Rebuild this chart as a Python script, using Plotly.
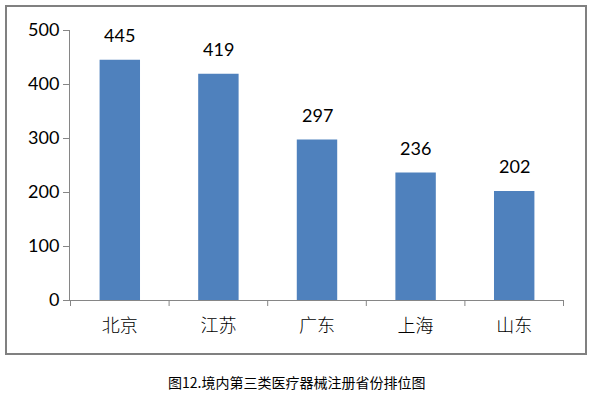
import plotly.graph_objects as go

categories = ["北京", "江苏", "广东", "上海", "山东"]
values = [445, 419, 297, 236, 202]
y_ticks = [0, 100, 200, 300, 400, 500]
caption = "图12.境内第三类医疗器械注册省份排位图"

W, H = 599, 395
L, R, T, B = 70, 35, 30, 95
pw, ph = W - L - R, H - T - B

def px_x(px):
    return (px - L) / pw

def px_y(py):
    return (H - B - py) / ph

fig = go.Figure()
fig.add_trace(go.Bar(
    x=categories, y=values,
    marker=dict(color="#4F81BD", line=dict(width=0)),
    width=0.41,
    hoverinfo="skip",
))

for c, v in zip(categories, values):
    fig.add_annotation(x=c, y=v, text=str(v), showarrow=False,
                       yanchor="bottom", yshift=12,
                       font=dict(family="Lato, Open Sans, sans-serif", size=18, color="#000"))

fig.add_annotation(xref="paper", yref="paper", x=px_x(296), y=px_y(382),
                   text=caption, showarrow=False, xanchor="center", yanchor="middle",
                   font=dict(family="Noto Sans CJK SC", size=14, color="#000", weight=400))

fig.add_shape(type="rect", xref="paper", yref="paper",
              x0=px_x(6), x1=px_x(586), y0=px_y(6), y1=px_y(354),
              line=dict(color="#808080", width=2), fillcolor="rgba(0,0,0,0)", layer="below")

fig.update_layout(
    width=W, height=H,
    margin=dict(l=L, r=R, t=T, b=B),
    paper_bgcolor="white", plot_bgcolor="white",
    showlegend=False,
    bargap=0.59,
    xaxis=dict(
        showline=True, linecolor="#868686", linewidth=1,
        ticks="", showgrid=False,
        tickfont=dict(family="Noto Sans CJK SC", size=18, color="#000", weight=300),
        ticklabelstandoff=9,
    ),
    yaxis=dict(
        range=[0, 500], tickvals=y_ticks,
        showline=True, linecolor="#868686", linewidth=1,
        ticks="outside", ticklen=6, tickcolor="#868686",
        showgrid=False, zeroline=False,
        tickfont=dict(family="Lato, Open Sans, sans-serif", size=18, color="#000"),
    ),
)

for i in range(len(categories) + 1):
    fig.add_shape(type="line", xref="x", yref="paper",
                  x0=i - 0.5, x1=i - 0.5, y0=0, y1=-6 / ph,
                  line=dict(color="#868686", width=1))

fig.write_html("out.html")
